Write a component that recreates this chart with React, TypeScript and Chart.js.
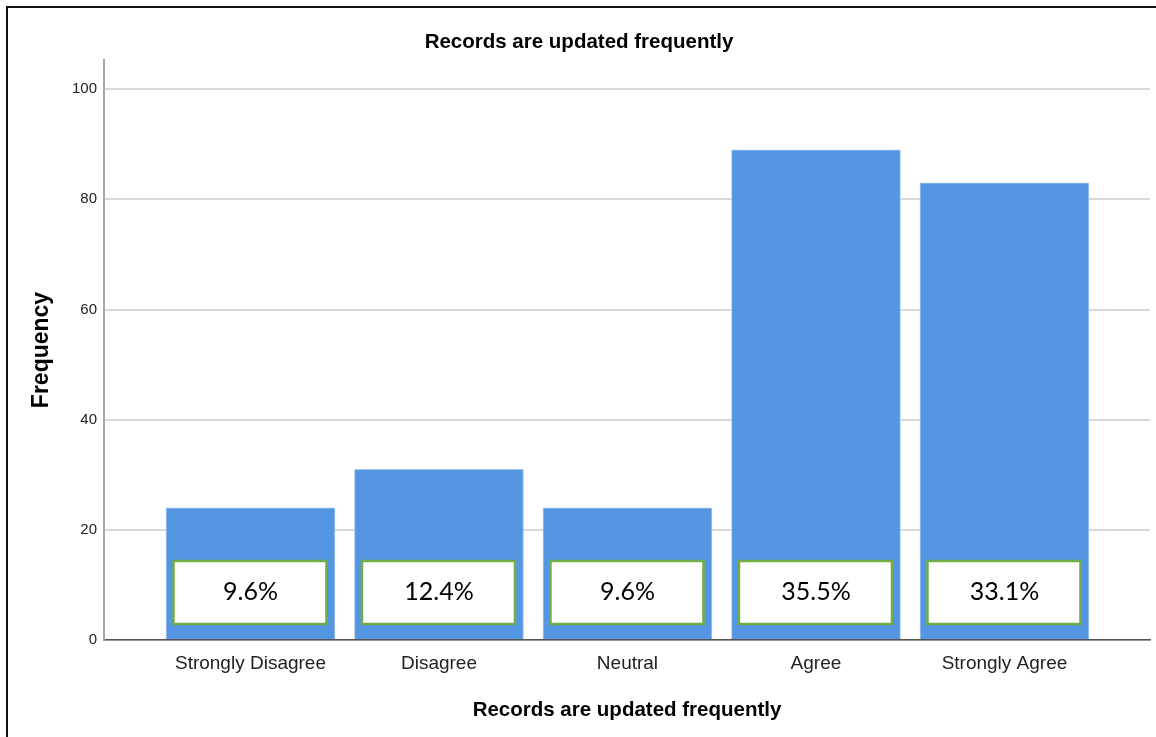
import React, { useEffect, useRef } from "react";
import { Chart, registerables } from "chart.js";

Chart.register(...registerables);

const CATEGORIES = ["Strongly Disagree", "Disagree", "Neutral", "Agree", "Strongly Agree"];
const FREQUENCIES = [24, 31, 24, 89, 83];
const PERCENT_LABELS = ["9.6%", "12.4%", "9.6%", "35.5%", "33.1%"];
const Y_TICKS = [0, 20, 40, 60, 80, 100];
const CHART_TITLE = "Records are updated frequently";
const X_TITLE = "Records are updated frequently";
const Y_TITLE = "Frequency";

const percentBoxes = {
  id: "percentBoxes",
  afterDatasetsDraw(chart: any) {
    const meta = chart.getDatasetMeta(0);
    const ctx = chart.ctx;
    const base = chart.chartArea.bottom;
    ctx.save();
    meta.data.forEach((bar: any, i: number) => {
      const left = bar.x - 77;
      const w = 153;
      const bottom = base - 16;
      const top = bottom - 63;
      ctx.fillStyle = "#ffffff";
      ctx.fillRect(left, top, w, bottom - top);
      ctx.strokeStyle = "#70AD47";
      ctx.lineWidth = 2.5;
      ctx.strokeRect(left, top, w, bottom - top);
      ctx.fillStyle = "#000000";
      ctx.font = "25px Lato, 'Open Sans', sans-serif";
      ctx.textAlign = "center";
      ctx.textBaseline = "middle";
      ctx.fillText(PERCENT_LABELS[i], bar.x, top + 31);
    });
    ctx.restore();
  },
};

export default function App() {
  const ref = useRef<HTMLCanvasElement | null>(null);

  useEffect(() => {
    if (!ref.current) return;
    const chart = new Chart(ref.current, {
      type: "bar",
      data: {
        datasets: [
          {
            data: FREQUENCIES.map((v, i) => ({ x: i, y: v })),
            backgroundColor: "#5596E3",
            borderColor: "#A8C8F0",
            borderWidth: 1,
            barThickness: 169,
          },
        ],
      },
      plugins: [percentBoxes],
      options: {
        responsive: false,
        animation: false,
        devicePixelRatio: 1,
        layout: { padding: { left: 0, right: 16, top: 0, bottom: 15.7 } },
        plugins: {
          legend: { display: false },
          tooltip: { enabled: false },
          title: {
            display: true,
            text: CHART_TITLE,
            color: "#000",
            font: { family: "'Liberation Sans', Arial, sans-serif", size: 20.5, weight: "bold", lineHeight: 1.1 },
            padding: { top: 22.7, bottom: 6.75 },
          },
        },
        scales: {
          x: {
            type: "linear",
            offset: false,
            min: -0.777,
            max: 4.772,
            grid: { display: false, drawTicks: false, offset: false },
            border: { display: true, color: "#555555", width: 1.5 },
            afterBuildTicks: (scale: any) => {
              scale.ticks = CATEGORIES.map((_, i) => ({ value: i }));
            },
            afterFit: (scale: any) => {
              scale.height = 81.3;
            },
            ticks: {
              padding: 12,
              autoSkip: false,
              maxRotation: 0,
              color: "#222",
              font: { family: "'Liberation Sans', Arial, sans-serif", size: 19, lineHeight: 1.2 },
              callback: (v: any) => CATEGORIES[v as number] ?? "",
            },
            title: {
              display: true,
              text: X_TITLE,
              color: "#000",
              padding: { top: 0, bottom: 0 },
              font: { family: "'Liberation Sans', Arial, sans-serif", size: 20.5, weight: "bold", lineHeight: 1.1 },
            },
          },
          y: {
            min: 0,
            max: 105.3,
            grid: { color: "#D9D9D9", lineWidth: 2, drawTicks: false },
            border: { display: true, color: "#A6A6A6", width: 2 },
            afterBuildTicks: (scale: any) => {
              scale.ticks = Y_TICKS.map((v) => ({ value: v }));
            },
            afterFit: (scale: any) => {
              scale.width = 96;
            },
            ticks: {
              padding: 7,
              color: "#222",
              font: { family: "'Liberation Sans', Arial, sans-serif", size: 15 },
            },
            title: {
              display: true,
              text: Y_TITLE,
              color: "#000",
              padding: { top: 21, bottom: 0 },
              font: { family: "'Liberation Sans', Arial, sans-serif", size: 23, weight: "bold", lineHeight: 1.1 },
            },
          },
        },
      },
    } as any);
    return () => chart.destroy();
  }, []);

  return (
    <div
      style={{
        position: "fixed",
        left: 6,
        top: 6,
        width: 1160,
        height: 740,
        borderLeft: "2px solid #111",
        borderTop: "2px solid #111",
        background: "#fff",
      }}
    >
      <canvas ref={ref} width={1158} height={729} style={{ display: "block", width: 1158, height: 729 }} />
    </div>
  );
}
